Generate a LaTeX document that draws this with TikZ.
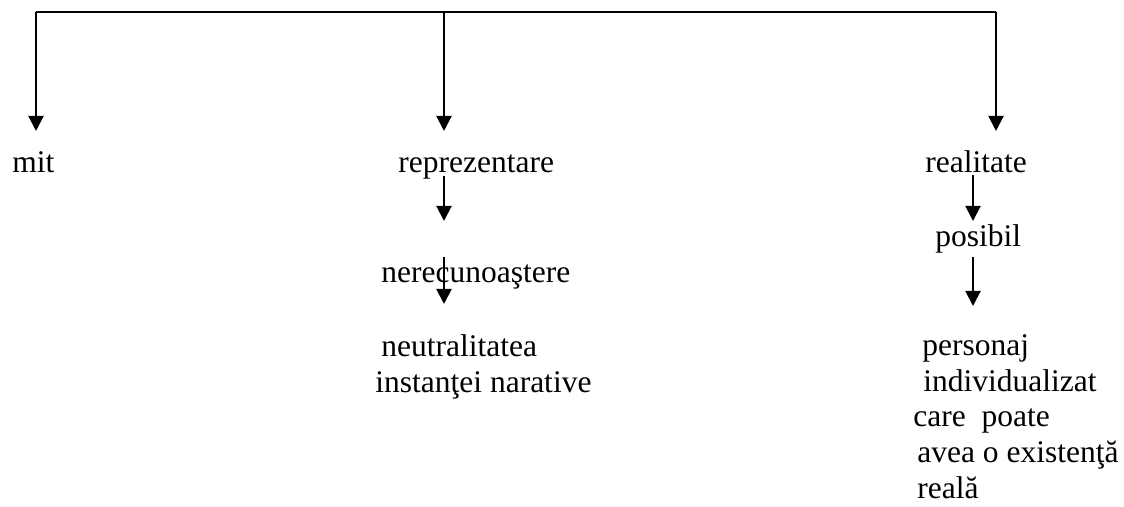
\documentclass[tikz,border=0pt]{standalone}
\usepackage{fontspec}
\setmainfont{LiberationSerif}[Extension=.ttf,UprightFont=*-Regular]
\usetikzlibrary{arrows.meta,positioning}

\begin{document}
\begin{tikzpicture}[x=0.5pt,y=-0.5pt,>={Triangle[length=7.5pt,width=7.5pt]},
  arr/.style={->,line width=1pt},
  txt/.style={anchor=base west,inner sep=0pt,font=\rmfamily\fontsize{15.75}{18}\selectfont}]
\useasboundingbox (0,0) rectangle (1124,507);

% top bar
\coordinate (L) at (36,12);
\coordinate (M) at (444,12);
\coordinate (R) at (996,12);
\draw[line width=1pt] (L) -- (R);

\node[txt] (mit) at (12,173) {mit};
\node[txt] (repr) at (398,173) {reprezentare};
\node[txt] (real) at (925,173) {realitate};

\coordinate (Lend) at (36,131);
\coordinate (Mend) at (444,131);
\coordinate (Rend) at (996,131);
\draw[arr] (L) -- (Lend);
\draw[arr] (M) -- (Mend);
\draw[arr] (R) -- (Rend);

% middle branch
\node[txt] (nerec) at (381,283) {nerecunoaştere};
\node[txt] (neut) at (381,357) {neutralitatea};
\node[txt] (inst) at (375,393) {instanţei narative};

\coordinate (m1) at (444,176);
\coordinate (m1end) at (444,221);
\coordinate (m2) at (444,257);
\coordinate (m2end) at (444,304);
\draw[arr] (m1) -- (m1end);
\draw[arr] (m2) -- (m2end);

% right branch
\node[txt] (pos) at (935,247) {posibil};
\node[txt] (pers) at (922,356) {personaj};
\node[txt] (indiv) at (923,391.5) {individualizat};
\node[txt] (care) at (913,427) {care\ \ poate};
\node[txt] (avea) at (917,462.5) {avea o existenţă};
\node[txt] (reala) at (917,498) {reală};

\coordinate (r1) at (973,175);
\coordinate (r1end) at (973,221);
\coordinate (r2) at (973,257);
\coordinate (r2end) at (973,306);
\draw[arr] (r1) -- (r1end);
\draw[arr] (r2) -- (r2end);

\end{tikzpicture}
\end{document}
